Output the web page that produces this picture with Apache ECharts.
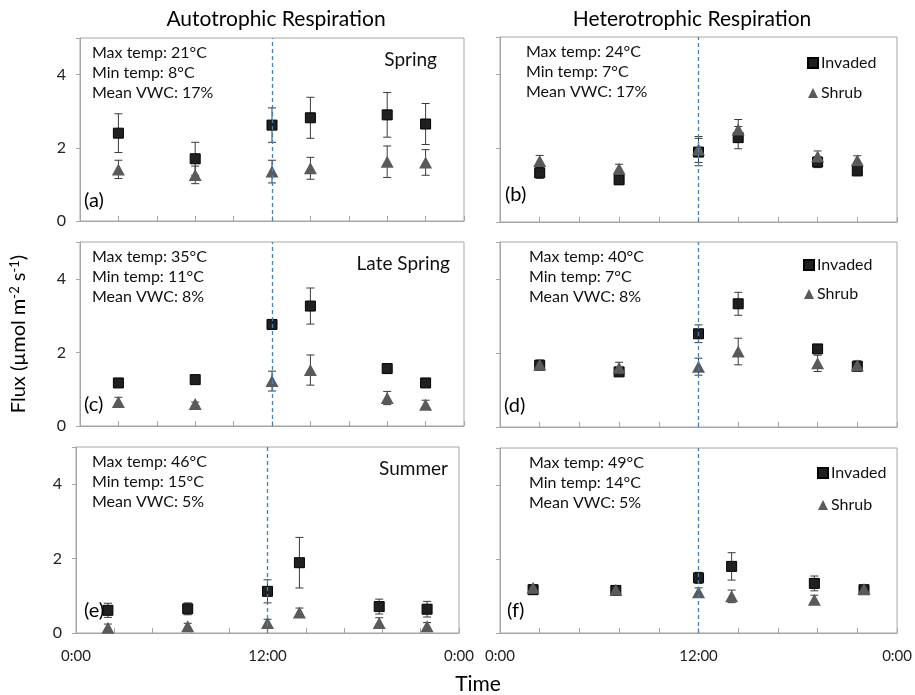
<!DOCTYPE html>
<html>
<head>
<meta charset="utf-8">
<title>Flux</title>
<script src="https://cdn.jsdelivr.net/npm/echarts@6/dist/echarts.min.js"></script>
<style>
  html, body { margin: 0; padding: 0; background: #fff; }
  #main { width: 915px; height: 695px; }
</style>
</head>
<body>
<div id="main"></div>
<script>
// sampling times, hours after midnight
var timesABCD = [2.4, 7.2, 12, 14.4, 19.2, 21.6];
var timesEF = [2, 7, 12, 14, 19, 22];
var xTickLabels = ['0:00', '12:00', '0:00'];   // at 0, 12, 24 h

// (a) autotrophic - spring
var invA    = [2.40, 1.70, 2.62, 2.82, 2.90, 2.65];
var invAErr = [0.53, 0.45, 0.47, 0.56, 0.61, 0.56];
var shrA    = [1.41, 1.26, 1.35, 1.44, 1.62, 1.60];
var shrAErr = [0.25, 0.24, 0.31, 0.30, 0.43, 0.35];
// (b) heterotrophic - spring
var invB    = [1.33, 1.14, 1.89, 2.28, 1.62, 1.38];
var invBErr = [0.15, 0.12, 0.37, 0.30, 0.15, 0.05];
var shrB    = [1.65, 1.44, 1.96, 2.50, 1.77, 1.67];
var shrBErr = [0.15, 0.12, 0.35, 0.27, 0.15, 0.12];
// (c) autotrophic - late spring
var invC    = [1.17, 1.26, 2.76, 3.26, 1.56, 1.17];
var invCErr = [0.03, 0.03, 0.05, 0.49, 0.06, 0.03];
var shrC    = [0.65, 0.60, 1.22, 1.52, 0.76, 0.58];
var shrCErr = [0.13, 0.05, 0.27, 0.41, 0.18, 0.12];
// (d) heterotrophic - late spring
var invD    = [1.67, 1.49, 2.52, 3.33, 2.11, 1.64];
var invDErr = [0.08, 0.05, 0.24, 0.31, 0.08, 0.05];
var shrD    = [1.69, 1.60, 1.63, 2.04, 1.72, 1.67];
var shrDErr = [0.12, 0.15, 0.23, 0.36, 0.22, 0.12];
// (e) autotrophic - summer
var invE    = [0.61, 0.65, 1.12, 1.89, 0.71, 0.64];
var invEErr = [0.19, 0.16, 0.31, 0.68, 0.20, 0.21];
var shrE    = [0.14, 0.18, 0.27, 0.55, 0.27, 0.18];
var shrEErr = [0.10, 0.08, 0.10, 0.12, 0.14, 0.10];
// (f) heterotrophic - summer
var invF    = [1.17, 1.15, 1.49, 1.80, 1.34, 1.17];
var invFErr = [0.05, 0.05, 0.15, 0.37, 0.20, 0.05];
var shrF    = [1.22, 1.17, 1.10, 0.99, 0.90, 1.19];
var shrFErr = [0.08, 0.08, 0.12, 0.17, 0.12, 0.05];

var notesA = ['Max temp: 21°C', 'Min temp: 8°C', 'Mean VWC: 17%'];
var notesB = ['Max temp: 24°C', 'Min temp: 7°C', 'Mean VWC: 17%'];
var notesC = ['Max temp: 35°C', 'Min temp: 11°C', 'Mean VWC: 8%'];
var notesD = ['Max temp: 40°C', 'Min temp: 7°C', 'Mean VWC: 8%'];
var notesE = ['Max temp: 46°C', 'Min temp: 15°C', 'Mean VWC: 5%'];
var notesF = ['Max temp: 49°C', 'Min temp: 14°C', 'Mean VWC: 5%'];

var FONT = 'Lato';

// layout of each panel: box = [left, top, width, height]
var panels = [
  {tag: '(a)', t: timesABCD, inv: invA, invErr: invAErr, shr: shrA, shrErr: shrAErr, notes: notesA,
   box: [80, 38, 384, 183], noteX: 12, season: 'Spring', seasonR: 27, tagX: 4, tagB: 18},
  {tag: '(b)', t: timesABCD, inv: invB, invErr: invBErr, shr: shrB, shrErr: shrBErr, notes: notesB,
   box: [500, 37, 397, 185], noteX: 26, legend: [802, 50], legendGap: 14, tagX: 5, tagB: 25},
  {tag: '(c)', t: timesABCD, inv: invC, invErr: invCErr, shr: shrC, shrErr: shrCErr, notes: notesC,
   box: [80, 242, 384, 184], noteX: 12, season: 'Late Spring', seasonR: 14, tagX: 4, tagB: 19},
  {tag: '(d)', t: timesABCD, inv: invD, invErr: invDErr, shr: shrD, shrErr: shrDErr, notes: notesD,
   box: [500, 242, 397, 185], noteX: 29, legend: [798, 252], legendGap: 13, tagX: 4, tagB: 19},
  {tag: '(e)', t: timesEF, inv: invE, invErr: invEErr, shr: shrE, shrErr: shrEErr, notes: notesE,
   box: [76, 447, 383, 186], noteX: 16, season: 'Summer', seasonR: 11, tagX: 8, tagB: 20},
  {tag: '(f)', t: timesEF, inv: invF, invErr: invFErr, shr: shrF, shrErr: shrFErr, notes: notesF,
   box: [500, 448, 398, 185], noteX: 29, legend: [812, 460], legendGap: 16, tagX: 7, tagB: 20}
];

function errorBars(params, api) {
  var x = api.value(0);
  var top = api.coord([x, api.value(2)]);
  var bot = api.coord([x, api.value(1)]);
  var c = 4;
  var st = {stroke: '#3a3a3a', lineWidth: 1};
  return {type: 'group', children: [
    {type: 'line', shape: {x1: top[0], y1: top[1], x2: bot[0], y2: bot[1]}, style: st},
    {type: 'line', shape: {x1: top[0] - c, y1: top[1], x2: top[0] + c, y2: top[1]}, style: st},
    {type: 'line', shape: {x1: bot[0] - c, y1: bot[1], x2: bot[0] + c, y2: bot[1]}, style: st}
  ]};
}

function fmtTime(v) {
  if (Math.abs(v) < 0.01) return xTickLabels[0];
  if (Math.abs(v - 12) < 0.01) return xTickLabels[1];
  if (Math.abs(v - 24) < 0.01) return xTickLabels[2];
  return '';
}

var grids = [], xAxes = [], yAxes = [], series = [], legends = [], graphics = [];

panels.forEach(function (p, i) {
  var leftCol = (i % 2 === 0);
  var bottomRow = (i >= 4);
  grids.push({left: p.box[0], top: p.box[1], width: p.box[2], height: p.box[3],
    show: true, borderColor: '#a6a6a6', borderWidth: 1, backgroundColor: 'transparent'});
  xAxes.push({gridIndex: i, type: 'value', min: 0, max: 24, interval: 2.4,
    axisLine: {show: true, lineStyle: {color: '#a6a6a6'}},
    axisTick: {show: true, inside: true, length: 5, lineStyle: {color: '#a6a6a6'}},
    splitLine: {show: false},
    axisLabel: {show: bottomRow, formatter: fmtTime, margin: 16, fontFamily: FONT, fontSize: 15,
      color: '#222', showMinLabel: true, showMaxLabel: true}});
  yAxes.push({gridIndex: i, type: 'value', min: 0, max: 5, interval: 2,
    axisLine: {show: true, lineStyle: {color: '#a6a6a6'}},
    axisTick: {show: true, length: 4, lineStyle: {color: '#a6a6a6'}},
    splitLine: {show: false},
    axisLabel: {show: leftCol, margin: 14, fontFamily: FONT, fontSize: 16, color: '#222',
      formatter: function (v) { return v > 4.5 ? '' : String(v); }}});

  var invErrData = p.t.map(function (t, k) { return [t, p.inv[k] - p.invErr[k], p.inv[k] + p.invErr[k]]; });
  var shrErrData = p.t.map(function (t, k) { return [t, p.shr[k] - p.shrErr[k], p.shr[k] + p.shrErr[k]]; });

  series.push({type: 'custom', name: 'errInv' + i, xAxisIndex: i, yAxisIndex: i,
    renderItem: errorBars, data: invErrData, silent: true, z: 2});
  series.push({type: 'custom', name: 'errShr' + i, xAxisIndex: i, yAxisIndex: i,
    renderItem: errorBars, data: shrErrData, silent: true, z: 2});
  series.push({type: 'scatter', name: 'Invaded', xAxisIndex: i, yAxisIndex: i,
    symbol: 'rect', symbolSize: 10, z: 3,
    itemStyle: {color: '#202020', borderColor: '#000', borderWidth: 1, opacity: 1},
    data: p.t.map(function (t, k) { return [t, p.inv[k]]; }),
    markLine: {silent: true, symbol: ['none', 'none'], label: {show: false},
      lineStyle: {type: [4, 3], color: '#4a7ebb', width: 1.3},
      data: [{xAxis: 12}]}});
  series.push({type: 'scatter', name: 'Shrub', xAxisIndex: i, yAxisIndex: i,
    symbol: 'triangle', symbolSize: [13, 12], z: 4,
    itemStyle: {color: '#5a5a5a', opacity: 1},
    data: p.t.map(function (t, k) { return [t, p.shr[k]]; })});

  // notes block
  p.notes.forEach(function (line, k) {
    graphics.push({type: 'text', left: p.box[0] + p.noteX, top: p.box[1] + 7 + k * 20,
      style: {text: line, font: '16px ' + FONT, fill: '#111'}});
  });
  // panel letter
  graphics.push({type: 'text', left: p.box[0] + p.tagX, top: p.box[1] + p.box[3] - p.tagB - 12,
    style: {text: p.tag, font: '20px ' + FONT, fill: '#000'}});
  if (p.season) {
    graphics.push({type: 'text', right: 915 - (p.box[0] + p.box[2] - p.seasonR), top: p.box[1] + 12,
      style: {text: p.season, font: '19px ' + FONT, fill: '#111'}});
  }
  if (p.legend) {
    legends.push({data: ['Invaded', 'Shrub'], orient: 'vertical', left: p.legend[0], top: p.legend[1],
      itemWidth: 10, itemHeight: 10, itemGap: p.legendGap, selectedMode: false,
      textStyle: {fontFamily: FONT, fontSize: 16, color: '#111', padding: [0, 0, 0, -2]}});
  }
});

// column titles, axis names
graphics.push({type: 'text', x: 276, y: 19,
  style: {text: 'Autotrophic Respiration', font: '21px ' + FONT, fill: '#000',
    textAlign: 'center', textVerticalAlign: 'middle'}});
graphics.push({type: 'text', x: 692, y: 19,
  style: {text: 'Heterotrophic Respiration', font: '21px ' + FONT, fill: '#000',
    textAlign: 'center', textVerticalAlign: 'middle'}});
graphics.push({type: 'text', x: 478, y: 684,
  style: {text: 'Time', font: '21px ' + FONT, fill: '#000',
    textAlign: 'center', textVerticalAlign: 'middle'}});
graphics.push({type: 'text', x: 19, y: 334, rotation: Math.PI / 2,
  style: {text: '{n|Flux (µmol m}{s|-2}{n| s}{s|-1}{n|)}', fill: '#000',
    textAlign: 'center', textVerticalAlign: 'middle',
    rich: {n: {font: '20px ' + FONT, fill: '#000'},
           s: {font: '13px ' + FONT, fill: '#000', verticalAlign: 'top', padding: [0, 0, 9, 0]}}}});

var chart = echarts.init(document.getElementById('main'), null, {renderer: 'canvas'});
chart.setOption({
  backgroundColor: '#fff',
  animation: false,
  grid: grids,
  xAxis: xAxes,
  yAxis: yAxes,
  legend: legends,
  graphic: graphics,
  series: series
});
</script>
</body>
</html>
